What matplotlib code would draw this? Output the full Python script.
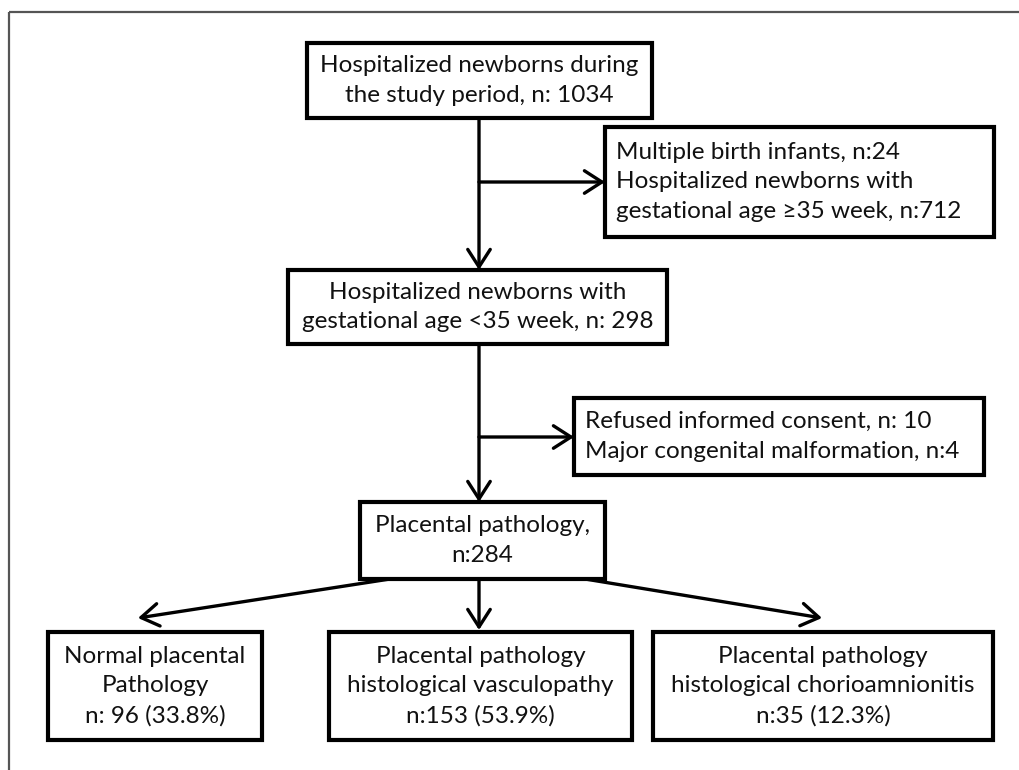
import matplotlib.pyplot as plt
from matplotlib.patches import Rectangle, FancyArrowPatch

plt.rcParams['font.family'] = ['Lato', 'DejaVu Sans']

# counts in the flow
total_n = 1034
multiple_n = 24
late_ga_n = 712
early_ga_n = 298
refused_n = 10
malform_n = 4
pathology_n = 284
group_names = [["Normal placental", "Pathology"],
               ["Placental pathology", "histological vasculopathy"],
               ["Placental pathology", "histological chorioamnionitis"]]
group_n = [96, 153, 35]
group_pct = [33.8, 53.9, 12.3]

fig = plt.figure(figsize=(10.19, 7.70), dpi=100)
ax = fig.add_axes([0, 0, 1, 1])
ax.set_xlim(0, 1019)
ax.set_ylim(770, 0)
ax.axis('off')

FS = 17.5
LS = 1.5
BOX_LW = 3.0
ARR_LW = 2.4

# outer frame (top and left edge only)
ax.plot([9, 1019], [12, 12], color='#555555', lw=1.6, solid_capstyle='butt')
ax.plot([9, 9], [12, 770], color='#555555', lw=1.6, solid_capstyle='butt')


def box(x0, y0, x1, y1, lines, align='center', pad=11):
    ax.add_patch(Rectangle((x0, y0), x1 - x0, y1 - y0, fill=False,
                           ec='black', lw=BOX_LW, joinstyle='miter'))
    txt = "\n".join(lines)
    if align == 'center':
        ax.text((x0 + x1) / 2, (y0 + y1) / 2, txt, ha='center', va='center',
                fontsize=FS, linespacing=LS, color='#111111')
    else:
        ax.text(x0 + pad, (y0 + y1) / 2, txt, ha='left', va='center',
                fontsize=FS, linespacing=LS, color='#111111')


def arrow(p0, p1):
    ax.add_patch(FancyArrowPatch(p0, p1, arrowstyle='->,head_length=0.7,head_width=0.45',
                                 mutation_scale=18, lw=ARR_LW, color='black',
                                 shrinkA=0, shrinkB=0))


box(307, 43, 652, 118, ["Hospitalized newborns during",
                        f"the study period, n: {total_n}"])
box(605, 127, 994, 237, [f"Multiple birth infants, n:{multiple_n}",
                         "Hospitalized newborns with",
                         f"gestational age \u226535 week, n:{late_ga_n}"], align='left')
box(288, 270, 667, 344, ["Hospitalized newborns with",
                         f"gestational age <35 week, n: {early_ga_n}"])
box(574, 398, 984, 475, [f"Refused informed consent, n: {refused_n}",
                         f"Major congenital malformation, n:{malform_n}"], align='left')
box(360, 502, 605, 579, ["Placental pathology,", f"n:{pathology_n}"])

bottom_x = [(48, 262), (329, 632), (653, 993)]
for (bx0, bx1), names, n, pct in zip(bottom_x, group_names, group_n, group_pct):
    sep = " " if n == group_n[0] else ""
    box(bx0, 632, bx1, 740, names + [f"n:{sep}{n} ({pct}%)"])

# connectors
arrow((479, 118), (479, 270))
arrow((479, 182), (605, 182))
arrow((479, 344), (479, 502))
arrow((479, 437), (574, 437))
arrow((390, 579), (138, 618))
arrow((479, 579), (479, 630))
arrow((585, 579), (822, 618))

fig.savefig('out.png', dpi=100)
